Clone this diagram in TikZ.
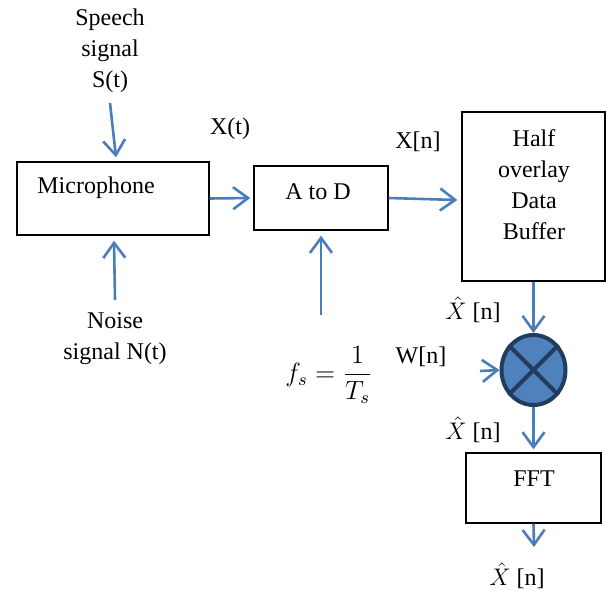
\documentclass[tikz,border=0pt]{standalone}
\usepackage{fontspec}
\setmainfont{Liberation Serif}
\usetikzlibrary{arrows.meta,shapes.geometric}
\definecolor{arrblue}{HTML}{4A7EBB}
\definecolor{circfill}{HTML}{4F81BD}
\definecolor{circedge}{HTML}{223C5E}
\tikzset{
  blockbox/.style={draw=black, line width=0.7pt, inner sep=0pt},
  txt/.style={inner sep=0pt, font=\fontsize{12}{14}\selectfont},
  flow/.style={draw=arrblue, line width=1.3pt, -{Straight Barb[length=7.5pt,width=11pt,line width=1.3pt]}},
}
\begin{document}
\begin{tikzpicture}[x=0.5pt,y=-0.5pt]
\useasboundingbox (0,0) rectangle (606,590);
% boxes
\node[blockbox, minimum width=96pt, minimum height=36.5pt] (mic) at (113,198.5) {};
\node[txt] (mictxt) at (96,188) {Microphone};
\node[blockbox, minimum width=67pt, minimum height=32pt] (ad) at (321,198) {};
\node[txt] (adtxt) at (318,192) {A to D};
\node[blockbox, minimum width=71.5pt, minimum height=84.5pt] (buf) at (533.5,196.5) {};
\node[txt, align=center] (buftxt) at (534,184.5) {Half\\[1.55pt]overlay\\[1.55pt]Data\\[1.55pt]Buffer};
\node[blockbox, minimum width=67.5pt, minimum height=35pt] (fft) at (533.5,488) {};
\node[txt] (ffttxt) at (534,479) {FFT};
% multiplier
\node[draw=circedge, fill=circfill, line width=2pt, ellipse, minimum width=32pt, minimum height=35pt, inner sep=0pt] (mult) at (533.5,370) {};
\draw[circedge, line width=2pt] (mult.45) -- (mult.225) (mult.135) -- (mult.315);
% labels
\node[txt, align=center] (speech) at (110,51) {Speech\\[1.6pt]signal\\[1.6pt]S(t)};
\node[txt, align=center] (noise) at (115,339) {Noise\\[1.6pt]signal N(t)};
\node[txt] (xt) at (230,129) {X(t)};
\node[txt] (xn) at (418,142) {X[n]};
\node[txt] (wn) at (421,357) {W[n]};
\node[txt] (xh1) at (473,310) {$\hat{X}$ [n]};
\node[txt] (xh2) at (473,430) {$\hat{X}$ [n]};
\node[txt] (xh3) at (517,576) {$\hat{X}$ [n]};
\node[txt, scale=1.1] (fs) at (329,375) {$f_s=\displaystyle\frac{1}{T_s}$};
% coordinates
\coordinate (speechtail) at (110,103);
\coordinate (noisetail) at (115,300);
\coordinate (fstail) at (321,315);
\coordinate (wtail) at (480,371);
\coordinate (outtip) at (534,547);
% connectors
\draw[flow] (speechtail) -- ([xshift=1.5pt,yshift=2pt]mic.north);
\draw[flow] (noisetail) -- ([xshift=0.5pt,yshift=-2.5pt]mic.south);
\draw[flow] (mic.east) -- ([xshift=-1.5pt]ad.west);
\draw[flow] (fstail) -- ([yshift=-2.5pt]ad.south);
\draw[flow] (ad.east) -- ([xshift=-2pt,yshift=-1.75pt]buf.west);
\draw[flow] (buf.south) -- (mult.north);
\draw[flow] (wtail) -- (mult.west);
\draw[flow] (mult.south) -- ([yshift=1.5pt]fft.north);
\draw[flow] (fft.south) -- (outtip);
\end{tikzpicture}
\end{document}
